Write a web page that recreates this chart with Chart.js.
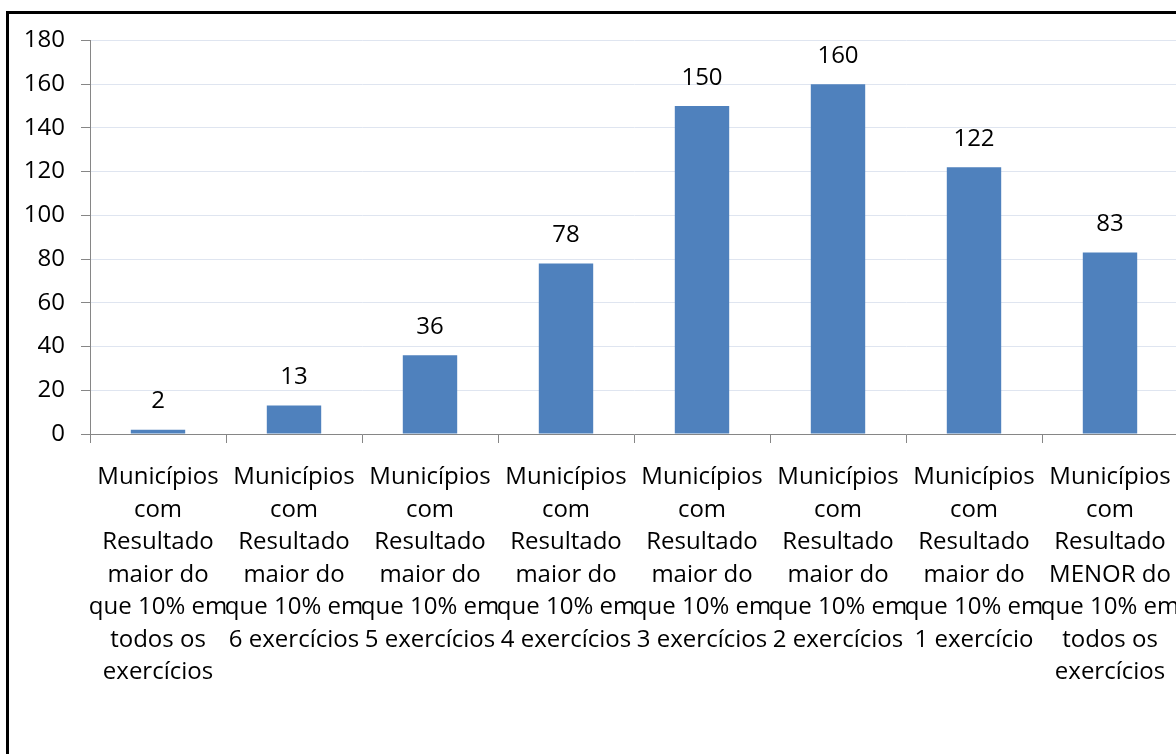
<!DOCTYPE html>
<html>
<head>
<meta charset="utf-8">
<script src="https://cdn.jsdelivr.net/npm/chart.js@4/dist/chart.umd.min.js"></script>
<style>
    html, body { margin: 0; padding: 0; background: #fff; overflow: hidden; width: 1176px; height: 754px; }
    #moldura { position: absolute; left: 6px; top: 11px; width: 1300px; height: 900px; border: 3px solid #000; }
    #caixa { position: absolute; left: 9px; top: 10px; width: 1200px; height: 744px; }
</style>
</head>
<body>
<div id="moldura"></div>
<div id="caixa"><canvas id="graficoMunicipios"></canvas></div>
<script>
const categorias = [
    ['Municípios', 'com', 'Resultado', 'maior do', 'que 10% em', 'todos os', 'exercícios'],
    ['Municípios', 'com', 'Resultado', 'maior do', 'que 10% em', '6 exercícios'],
    ['Municípios', 'com', 'Resultado', 'maior do', 'que 10% em', '5 exercícios'],
    ['Municípios', 'com', 'Resultado', 'maior do', 'que 10% em', '4 exercícios'],
    ['Municípios', 'com', 'Resultado', 'maior do', 'que 10% em', '3 exercícios'],
    ['Municípios', 'com', 'Resultado', 'maior do', 'que 10% em', '2 exercícios'],
    ['Municípios', 'com', 'Resultado', 'maior do', 'que 10% em', '1 exercício'],
    ['Municípios', 'com', 'Resultado', 'MENOR do', 'que 10% em', 'todos os', 'exercícios']
];
const valores = [2, 13, 36, 78, 150, 160, 122, 83];
const eixoY = { min: 0, max: 180, passo: 20 };

const fonte = '"Open Sans", "Noto Sans", sans-serif';

// Rótulos de valor acima das barras
const rotulosValor = {
    id: 'rotulosValor',
    afterDatasetsDraw(chart) {
        const ctx = chart.ctx;
        const meta = chart.getDatasetMeta(0);
        ctx.save();
        ctx.font = '24px ' + fonte;
        ctx.fillStyle = '#000';
        ctx.textAlign = 'center';
        ctx.textBaseline = 'middle';
        meta.data.forEach((barra, i) => {
            ctx.fillText(String(valores[i]), barra.x, barra.y - 28);
        });
        ctx.restore();
    }
};

new Chart(document.getElementById('graficoMunicipios'), {
    type: 'bar',
    data: {
        labels: categorias,
        datasets: [{
            data: valores,
            backgroundColor: '#4f81bd',
            categoryPercentage: 1,
            barPercentage: 0.4
        }]
    },
    options: {
        responsive: true,
        maintainAspectRatio: false,
        animation: false,
        layout: { padding: { top: 0, right: 31, left: 0, bottom: 0 } },
        plugins: {
            legend: { display: false },
            tooltip: { enabled: false }
        },
        scales: {
            x: {
                afterFit(scale) { scale.height = 320; },
                grid: {
                    drawOnChartArea: false,
                    offset: true,
                    tickLength: 9,
                    tickColor: '#868686'
                },
                border: { color: '#868686', width: 1 },
                ticks: {
                    color: '#000',
                    padding: 18,
                    maxRotation: 0,
                    autoSkip: false,
                    font: { family: fonte, size: 24, lineHeight: '32.5px' }
                }
            },
            y: {
                min: eixoY.min,
                max: eixoY.max,
                afterFit(scale) { scale.width = 81; },
                grid: {
                    color: '#dfe5f0',
                    tickLength: 9,
                    tickColor: '#868686'
                },
                border: { color: '#868686', width: 1 },
                ticks: {
                    stepSize: eixoY.passo,
                    color: '#000',
                    padding: 16,
                    font: { family: fonte, size: 24 }
                }
            }
        }
    },
    plugins: [rotulosValor]
});
</script>
</body>
</html>
